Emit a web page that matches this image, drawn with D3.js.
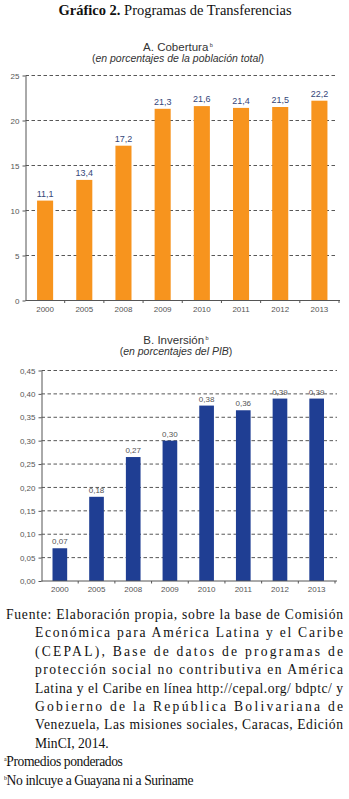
<!DOCTYPE html>
<html>
<head>
<meta charset="utf-8">
<script src="https://cdn.jsdelivr.net/npm/d3@7"></script>
<style>
  body { margin: 0; background: #fff; }
  svg { display: block; }
</style>
</head>
<body>
<div id="chart"></div>
<script>
// datos
const years = ["2000", "2005", "2008", "2009", "2010", "2011", "2012", "2013"];
const cobertura = [11.1, 13.4, 17.2, 21.3, 21.6, 21.4, 21.5, 22.2];
const coberturaLabels = ["11,1", "13,4", "17,2", "21,3", "21,6", "21,4", "21,5", "22,2"];
const coberturaTicks = [0, 5, 10, 15, 20, 25];
const inversion = [0.07, 0.18, 0.265, 0.30, 0.375, 0.365, 0.39, 0.39];
const inversionLabels = ["0,07", "0,18", "0,27", "0,30", "0,38", "0,36", "0,39", "0,39"];
const inversionTicks = [0, 0.05, 0.10, 0.15, 0.20, 0.25, 0.30, 0.35, 0.40, 0.45];

const fuenteLines = [
  "Fuente: Elaboración propia, sobre la base de Comisión",
  "Económica para América Latina y el Caribe",
  "(CEPAL), Base de datos de programas de",
  "protección social no contributiva en América",
  "Latina y el Caribe en línea http://cepal.org/ bdptc/ y",
  "Gobierno de la República Bolivariana de",
  "Venezuela, Las misiones sociales, Caracas, Edición",
  "MinCI, 2014."
];

const W = 349, H = 799;
const svg = d3.select("#chart").append("svg")
  .attr("width", W).attr("height", H);

const SANS = "'Liberation Sans', Arial, sans-serif";
const SERIF = "'Liberation Serif', 'Times New Roman', serif";

// titulo general
const t = svg.append("text")
  .attr("x", 175).attr("y", 15)
  .attr("text-anchor", "middle")
  .style("font-family", SERIF).style("font-size", "14.5px").attr("fill", "#111");
t.append("tspan").style("font-weight", "bold").text("Gráfico 2.");
t.append("tspan").text(" Programas de Transferencias");

function barChart(opt) {
  const x = d3.scaleBand().domain(years).range(opt.xRange)
    .paddingInner(opt.pad).paddingOuter(opt.pad / 2);
  const y = d3.scaleLinear().domain([0, opt.max]).range(opt.yRange);
  const g = svg.append("g");
  const x0 = opt.xRange[0];

  // titulos
  const tt = g.append("text")
    .attr("x", opt.titleX).attr("y", opt.titleY)
    .attr("text-anchor", "middle")
    .style("font-family", SANS).style("font-size", "11.5px").attr("fill", "#333");
  tt.append("tspan").text(opt.title);
  tt.append("tspan").attr("dy", -4).style("font-size", "5.5px").text(" b");

  const st = g.append("text")
    .attr("x", opt.titleX).attr("y", opt.titleY + 11)
    .attr("text-anchor", "middle")
    .style("font-family", SANS).style("font-size", "10.5px").attr("fill", "#333");
  st.append("tspan").text("(");
  st.append("tspan").style("font-style", "italic").text(opt.subtitle);
  st.append("tspan").text(")");

  // rejilla
  g.selectAll(".grid").data(opt.ticks.filter(d => d > 0)).join("line")
    .attr("x1", x0).attr("x2", opt.gridEnd)
    .attr("y1", d => y(d)).attr("y2", d => y(d))
    .attr("stroke", "#444").attr("stroke-width", 0.9)
    .attr("stroke-dasharray", "3.5,2.5");

  // barras
  g.selectAll(".bar").data(opt.values.map((_, i) => i)).join("rect")
    .attr("x", i => x(years[i]))
    .attr("width", x.bandwidth())
    .attr("y", i => y(opt.values[i]))
    .attr("height", i => y(0) - y(opt.values[i]))
    .attr("fill", opt.color);

  g.selectAll(".val").data(opt.values).join("text")
    .attr("x", (d, i) => x(years[i]) + x.bandwidth() / 2)
    .attr("y", d => y(d) - 4)
    .attr("text-anchor", "middle")
    .style("font-family", SANS).style("font-size", opt.valSize)
    .attr("fill", opt.valColor)
    .text((d, i) => opt.labels[i]);

  // eje y
  const yAxis = d3.axisLeft(y).tickValues(opt.ticks).tickSize(3).tickSizeOuter(0)
    .tickFormat(opt.fmt);
  const ya = g.append("g").attr("transform", `translate(${x0},0)`).call(yAxis);
  ya.select(".domain").attr("stroke", "#555");
  ya.selectAll(".tick line").attr("stroke", "#555");
  ya.selectAll(".tick text")
    .style("font-family", SANS).style("font-size", "8px").attr("fill", "#555");

  // eje x
  g.append("line")
    .attr("x1", x0).attr("x2", opt.axisEnd)
    .attr("y1", y(0)).attr("y2", y(0))
    .attr("stroke", "#555");
  g.selectAll(".xt").data(d3.range(1, years.length + 1)).join("line")
    .attr("x1", i => x0 + i * x.step()).attr("x2", i => x0 + i * x.step())
    .attr("y1", y(0)).attr("y2", y(0) + 2.5)
    .attr("stroke", "#555");
  g.selectAll(".yl").data(years).join("text")
    .attr("x", d => x(d) + x.bandwidth() / 2)
    .attr("y", y(0) + 11)
    .attr("text-anchor", "middle")
    .style("font-family", SANS).style("font-size", "8px").attr("fill", "#555")
    .text(d => d);
}

barChart({
  title: "A. Cobertura", subtitle: "en porcentajes de la población total",
  titleX: 178, titleY: 51,
  values: cobertura, labels: coberturaLabels, ticks: coberturaTicks, max: 25,
  xRange: [25.5, 339], yRange: [300.5, 75.5], pad: 0.59,
  gridEnd: 337, axisEnd: 340,
  color: "#f7941e", valColor: "#35467a", valSize: "9px",
  fmt: d3.format("d")
});

barChart({
  title: "B. Inversión", subtitle: "en porcentajes del PIB",
  titleX: 176, titleY: 344,
  values: inversion, labels: inversionLabels, ticks: inversionTicks, max: 0.45,
  xRange: [41.5, 335], yRange: [581, 370.5], pad: 0.6,
  gridEnd: 337, axisEnd: 337,
  color: "#1f3e93", valColor: "#555", valSize: "8px",
  fmt: d => d.toFixed(2).replace(".", ",")
});

// fuente
const fuente = svg.append("g")
  .style("font-family", SERIF).style("font-size", "13.6px").attr("fill", "#111");
fuenteLines.forEach((line, i) => {
  const xl = i === 0 ? 6 : 35;
  const tx = fuente.append("text")
    .attr("x", xl).attr("y", 619 + i * 18.4)
    .text(line);
  if (i < fuenteLines.length - 1) {
    tx.attr("textLength", 343 - xl).attr("lengthAdjust", "spacing");
  }
});

const notes = [["a", "Promedios ponderados"], ["b", "No inlcuye a Guayana ni a Suriname"]];
notes.forEach((n, i) => {
  const tx = fuente.append("text")
    .attr("x", 4).attr("y", 619 + (8 + i) * 18.4)
    .style("letter-spacing", "-0.4px");
  tx.append("tspan").attr("dy", -5).style("font-size", "6px").text(n[0]);
  tx.append("tspan").attr("dy", 5).text(n[1]);
});
</script>
</body>
</html>
